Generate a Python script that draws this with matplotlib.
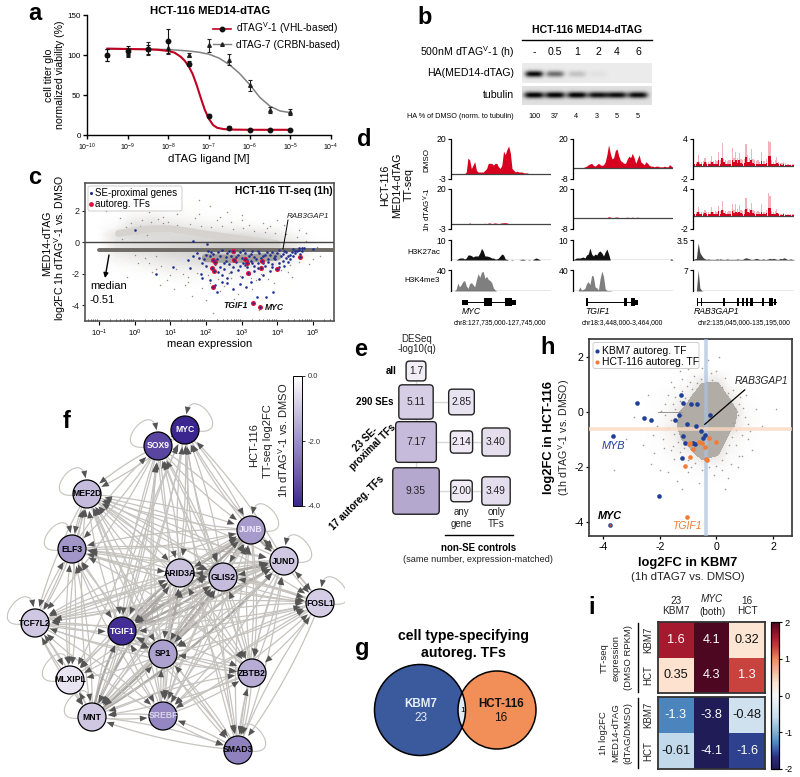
import numpy as np
import matplotlib
matplotlib.use('Agg')
import matplotlib.pyplot as plt
from matplotlib.patches import Circle, FancyBboxPatch, Rectangle
from matplotlib.collections import LineCollection, PolyCollection
from matplotlib.colors import LinearSegmentedColormap, Normalize
from matplotlib.cm import ScalarMappable
from matplotlib.ticker import FixedLocator, NullFormatter, LogLocator

plt.rcParams['font.family'] = ['Liberation Sans', 'DejaVu Sans']
plt.rcParams['mathtext.fontset'] = 'custom'
plt.rcParams['mathtext.rm'] = 'Liberation Sans'
plt.rcParams['mathtext.it'] = 'Liberation Sans:italic'
plt.rcParams['mathtext.bf'] = 'Liberation Sans:bold'
plt.rcParams['axes.unicode_minus'] = False

# ---------- panel a ----------
dose_log = [-9.5, -9, -8.5, -8, -7.5, -7, -6.5, -6, -5.5, -5]
vhl_viab = [100, 105, 107, 117, 89, 24, 9, 6, 6, 6]
vhl_err = [8, 6, 6, 15, 3, 2, 2, 1.5, 1, 1]
crbn_viab = [100, 103, 108, 109, 100, 112, 94, 62, 31, 29]
crbn_err = [8, 6, 8, 8, 2, 8, 7, 7, 4, 4]
vhl_fit_x = [-9.5, -9, -8.5, -8.25, -8, -7.85, -7.7, -7.6, -7.5, -7.4, -7.3, -7.2, -7.1, -7, -6.9, -6.8, -6.65, -6.5, -6, -5]
vhl_fit_y = [108, 107.5, 107, 106.5, 105, 103, 98, 93, 86, 76, 62, 46, 31, 20, 12.5, 9, 7.5, 6.8, 6.5, 6.5]
crbn_fit_x = [-9.5, -9, -8.5, -8, -7.5, -7.25, -7, -6.75, -6.5, -6.25, -6, -5.75, -5.5, -5.25, -5]
crbn_fit_y = [107.5, 107.4, 107.2, 106.8, 105, 103.5, 101, 96, 88, 77, 63, 47, 36, 30, 28]

# ---------- panel b ----------
lane_labels = ['-', '0.5', '1', '2', '4', '6']
ha_band = [1.0, 0.55, 0.18, 0.04, 0.0, 0.0]
tubulin_band = [1.0, 1.0, 1.0, 0.92, 0.94, 0.95]
ha_pct = ['100', '37', '4', '3', '5', '5']

# ---------- panel d ----------
myc_dmso = [0]*9 + [1, 9, 8, 3, 5, 7, 2, 1, 1, 1, 1, 2, 3, 6, 6, 6, 5, 6, 6, 4, 3, 5, 13, 11, 14, 16, 12, 3, 2, 1, 1.5, 1, 1, 1, .5, .5, .5] + [0]*14
myc_dtag = [0]*9 + [0, 0, .5, 0, 0, 0, 0, 0, 0, 0, 0, .3, 0, .4, .5, 0, .3, .5, .3, 0, .3, .5, .6, .6, .5, 0] + [0]*25
myc_k27 = [0, 0, 0, 0, .5, 1, 1, 1, .5, 1, 2.5, 2.5, 2.2, 1.5, 2, 2, 2, 3.5, 5.8, 4.5, 2, 2, 1.8, 1.5, 1, 1, .5, .5, 1, 2, 3, 2.5, .5, .3, 0, 0, .2, 0, 0, 0, 0, .2, .4, .3, 0, 0, .2, 0, 0, .5, 1, .8, .3, 0, 0, 0, 0, 0, 0, 0]
myc_k4 = [0, 0, 0, 3, 15, 8, 12, 18, 20, 10, 5, 14, 16, 12, 8, 22, 33, 26, 36, 37, 24, 28, 22, 20, 16, 6, 2, 0] + [0]*32
tgif_dmso = [0, 0, 0, 0, 0, 0, 0, .5, 1, 2, 2.5, 3, 1.5, 1, 2, 3, 2, 1.5, 2, 4, 9, 16, 10, 6, 7, 12, 13, 8, 5, 4, 3, 3, 6, 8, 7, 10, 7, 3, 6, 9, 4, 3, 2, 4, 3, 1.5, 1, 1, .5, 1, 1, .5, .5, .5, 1, .5, .5, 2, 1, 0]
tgif_dtag = [0]*20 + [0, .6, .3, 0, 0, .3, .4, 0, 0, 0, 0, 0, .3, 0, 0, .3, 0, 0, .3, 0] + [0]*20
tgif_k27 = [0, .5, 1, 1, 1, 1.2, 1.5, 1, 2.5, 3, 6, 3, 2, 3, 2.5, 4, 4.5, 3.5, 2, 4, 5.5, 3, 0, 0, 0] + [0]*33 + [.6, 0]
tgif_k4 = [0, 0, 0, 0, 8, 2, 3, 5, 14, 18, 12, 30, 28, 8, 6, 2, 24, 38, 28, 4, 1, 1, 1, 0] + [0]*36
rab_dmso_peak = [.2, .3, .6, 1.6, .6, .5, .7, 1.1, .5, .6, .7, 1.5, .7, .8, .7, 2, .8, 3.4, 1, .8, .7, .8, .8, 2.6, 1.2, 2, 1.2, 1.9, 1, .8, 1, 3.3, 1.6, 1.2, 2.5, 1, .8, .7, .8, .6, 2, .7, .7, 1, 3.7, 3.6, .8, .6, .8, 1.3, .5, .4, .4, .6, .4, .3, .2, .3, .2, .2]
rab_dmso_core = [.1, .2, .3, .5, .3, .3, .3, .5, .2, .3, .3, .6, .3, .3, .3, .8, .3, 1.2, .5, .3, .3, .3, .3, .9, .5, .8, .4, .8, .4, .3, .4, 1.3, .6, .5, .9, .4, .3, .3, .3, .2, .7, .3, .3, .4, 1.4, 1.5, .3, .2, .3, .4, .2, .2, .1, .2, .1, .1, .1, .1, .1, .1]
rab_dtag_peak = [.2, .3, .5, 1.3, .5, .5, .6, .8, .5, .5, .6, 1.3, .6, .7, .6, 1.5, .7, 2.2, .8, .7, .6, .7, .7, 1.8, .9, 1.7, 1, 1.6, .8, .7, .8, 2.6, 1.2, 1, 1.9, .8, .7, .6, .7, .5, 1.7, .6, .6, .8, 3.4, 2.9, .7, .5, .7, 1, .4, .3, .3, .4, .3, .3, .2, .2, .2, .2]
rab_dtag_core = [.1, .2, .3, .5, .3, .3, .3, .4, .2, .3, .3, .5, .3, .3, .3, .7, .3, .9, .4, .3, .3, .3, .3, .7, .4, .6, .4, .6, .4, .3, .3, 1, .5, .4, .8, .4, .3, .3, .3, .2, .6, .3, .3, .4, 1.2, 1.1, .3, .2, .3, .4, .2, .1, .1, .2, .1, .1, .1, .1, .1, .1]
rab_k27 = [.1, .2, .3, 3.0, 1.3, .8, .4, .2, .1, .2, .1, .1, .1, .1, .2, .1, .2, .1, .1, .1, .2, .1, .1, .1, .1, .1, .2, .1, .1, .1, .3, .4, .3, .2, .1, .1, .2, .3, .2, .1, .1, .2, .1, .1, .2, .3, .2, .3, .2, .1, .1, .3, .2, .4, .3, .1, .1, .2, .1, .1]
rab_k4 = [0, 0, 0, 7, 1, .2] + [0]*54

# ---------- panel c ----------
ma_density_x = [-1, -.5, 0, .5, 1, 1.5, 2, 2.5, 3, 3.5, 4, 4.5, 5, 5.5]
ma_density_y = [2.5, 2, 1.5, 1, .5, 0, -.5, -1, -1.5, -2, -2.5, -3]
ma_density = [
    [0, 0, 0, .01, .01, .01, .01, 0, 0, 0, 0, 0, 0, 0],
    [0, 0, .04, .06, .05, .04, .02, .01, 0, 0, 0, 0, 0, 0],
    [0, .02, .22, .28, .17, .11, .06, .03, .01, 0, 0, 0, 0, 0],
    [0, .1, .5, .55, .42, .32, .25, .2, .15, .1, .05, 0, 0, 0],
    [0, .45, .6, .62, .6, .6, .6, .5, .5, .42, .3, .1, 0, 0],
    [0, .4, .5, .55, .62, .7, .72, .8, .8, .72, .5, .3, .05, 0],
    [0, .4, .5, .55, .65, .72, .8, .85, .85, .8, .65, .4, .1, 0],
    [0, .2, .3, .4, .5, .6, .7, .72, .72, .62, .5, .2, .05, 0],
    [0, .05, .1, .2, .3, .32, .4, .42, .42, .32, .2, .05, 0, 0],
    [0, 0, .02, .05, .15, .15, .15, .15, .15, .1, .05, 0, 0, 0],
    [0, 0, 0, .01, .03, .05, .05, .05, .05, .03, .01, 0, 0, 0],
    [0, 0, 0, 0, 0, .01, .01, .02, .02, .01, 0, 0, 0, 0],
]
ma_grey_pts = [(.2, 2.1), (.4, 1.9), (.8, 1.6), (1.2, 1.8), (1.8, 2.7), (2.1, 2.3), (2.6, 1.9), (3.0, 1.7), (3.6, 1.2), (4.2, 1.1),
               (-.8, 2.0), (-.4, 1.5), (.1, -1.3), (.6, -1.7), (1.0, -2.1), (1.5, -2.5), (.3, -1.0), (.9, -2.4), (1.4, -2.7), (1.9, -2.9),
               (2.4, -3.1), (2.9, -3.3), (3.3, -3.0), (3.9, -2.6), (4.4, -2.2), (4.9, -1.4), (5.2, -.9), (-.2, -2.2), (.5, -1.9), (1.3, 2.3),
               (1.7, 1.5), (2.3, 1.4), (2.7, 1.3), (3.2, 1.1), (3.7, .9), (.7, -2.7), (1.1, -3.0), (1.6, -3.4), (2.0, -3.7), (2.5, -2.8),
               (3.1, -3.9), (3.5, -4.3), (2.2, -4.5), (2.8, -3.6), (3.4, -2.4), (1.2, 1.1), (1.8, 1.8), (2.4, 1.6), (3.0, 1.4), (3.8, 1.0),
               (4.6, .8), (.2, 1.4), (.8, 1.2), (4.0, 1.4), (4.8, .6), (0, -.8), (.6, -.9), (1.5, -2.2), (2.1, -2.6), (2.7, -2.3),
               (4.3, -1.9), (5.0, -1.1), (.4, -1.3), (.75, -1.5), (1.15, -1.7), (1.35, -2.0), (1.75, -1.95), (2.05, -2.1), (2.35, -2.35), (2.65, -1.95),
               (2.95, -2.15), (3.25, -2.25), (3.55, -2.05), (3.75, -2.35), (4.1, -1.75), (4.35, -1.45), (4.6, -1.25), (.15, 1.05), (.45, 1.25), (.65, 1.45),
               (.95, 1.3), (1.25, .95), (1.55, 1.15), (1.85, 1.05), (2.15, .95), (2.45, 1.05), (2.75, .85), (3.05, .9), (3.35, .7), (3.65, .65),
               (3.95, .55), (4.25, .5), (4.55, .35), (4.8, .1), (5.1, -.3), (-.25, .95), (-.1, 1.2), (.05, .6), (.35, .45), (-.35, .2)]
se_pts = [(0, .8), (.59, -2.0), (1.07, -1.56), (1.63, .06), (2.04, -.1), (1.74, -.66), (1.51, -1.14), (1.55, -1.67), (1.9, -2.3), (2.3, -3.15),
          (2.58, -2.62), (2.77, -2.94), (3.12, -2.83), (3.42, -3.47), (3.68, -3.47), (3.89, -3.15), (2.0, -.8), (2.15, -.6), (2.3, -1.1), (2.4, -.9),
          (2.5, -1.3), (2.6, -.7), (2.7, -.9), (2.8, -.6), (2.9, -.8), (3.0, -1.0), (3.1, -.7), (3.2, -.9), (3.3, -.55), (3.4, -1.1),
          (3.5, -.7), (3.6, -.9), (3.7, -.6), (3.8, -.8), (3.9, -1.0), (4.0, -.7), (4.1, -.9), (4.2, -.55), (4.3, -.85), (4.4, -.65),
          (4.5, -.7), (4.6, -.5), (4.7, -.4), (4.75, -.35), (1.9, -1.3), (2.0, -1.5), (2.1, -.9), (2.4, -1.6), (2.55, -1.2), (2.65, -1.4),
          (2.85, -1.25), (2.95, -1.5), (3.05, -1.3), (3.15, -1.6), (3.25, -1.2), (3.35, -1.5), (3.45, -1.3), (3.55, -1.2), (3.65, -1.5), (3.75, -1.25),
          (3.85, -1.4), (3.95, -1.1), (4.05, -1.3), (4.15, -1.2), (4.25, -1.0), (4.35, -1.05), (2.35, -1.9), (2.45, -2.1), (2.7, -1.9), (2.9, -1.75),
          (3.0, -2.2), (3.2, -2.0), (3.35, -1.8), (3.6, -2.1), (3.8, -1.85), (4.05, -1.6), (4.2, -1.5), (2.1, -2.4), (2.25, -2.7), (2.6, -2.3),
          (3.25, -2.5), (3.5, -2.35), (1.85, -2.0), (2.45, -2.55), (2.95, -2.65), (5.0, -.45), (4.65, -.75), (4.55, -.55),
          (2.05, -.55), (2.2, -.75), (2.35, -.65), (2.45, -.5), (2.55, -.95), (2.65, -.55), (2.75, -1.1), (2.85, -.95), (2.95, -.6), (3.05, -.5),
          (3.15, -1.15), (3.25, -.75), (3.35, -.95), (3.45, -.55), (3.55, -1.0), (3.65, -.8), (3.75, -1.05), (3.85, -.6), (3.95, -.85), (4.05, -.5),
          (4.15, -.75), (4.25, -.6), (4.35, -.8), (4.45, -.9), (4.5, -.55), (1.8, -1.0), (1.65, -.85), (1.95, -1.1), (2.25, -1.4), (2.75, -1.55),
          (3.1, -1.45), (3.3, -1.35), (3.6, -1.35), (3.85, -1.6), (4.3, -1.25), (4.45, -.45), (4.6, -.35), (4.7, -.55), (2.5, -1.7), (3.45, -1.65)]
auto_x = [2.2, 2.25, 2.16, 2.22, 2.77, 2.79, 3.09, 3.14, 3.56, 3.54, 3.17, 3.98, 4.64, 2.19, 3.31, 3.51]
auto_y = [-1.14, -1.29, -1.67, -1.80, -.57, -1.14, -1.08, -1.35, -1.2, -1.67, -1.95, -1.73, -.97, -2.83, -3.83, -4.14]
ma_median = -0.51
ma_arc_x = [-.45, 0, .5, 1, 1.5, 2, 3, 4]
ma_arc_y = [.55, .72, .85, .85, .7, .5, .2, -.1]
ma_low_x = [2, 2.5, 3, 3.5, 4]
ma_low_y = [-1.0, -1.05, -1.05, -1.0, -.9]

# ---------- panel e ----------
e_main_labels = ['all', '290 SEs', '23 SE-\nproximal TFs', '17 autoreg. TFs']
e_main_vals = [1.7, 5.11, 7.17, 9.35]
e_anygene_vals = [2.85, 2.14, 2.00]
e_onlytf_vals = [3.40, 3.49]

# ---------- panel f ----------
tf_names = ['MYC', 'SOX9', 'MEF2D', 'ELF3', 'JUNB', 'JUND', 'ARID3A', 'GLIS2', 'FOSL1', 'TCF7L2', 'TGIF1', 'SP1', 'ZBTB2', 'MLXIPL', 'MNT', 'SREBF', 'SMAD3']
tf_lfc = [-4.1, -3.4, -1.2, -1.9, -1.8, -1.0, -1.1, -1.2, -0.9, -1.0, -3.85, -1.7, -1.5, -0.5, -1.0, -2.2, -2.3]
tf_regulators = {
    'MYC': ['SOX9', 'JUNB', 'ARID3A', 'GLIS2', 'TGIF1', 'SP1', 'JUND', 'MNT', 'SMAD3', 'ZBTB2'],
    'SOX9': ['MYC', 'ARID3A', 'GLIS2', 'TGIF1', 'SP1', 'MNT', 'SREBF', 'ZBTB2', 'ELF3', 'SMAD3'],
    'MEF2D': ['SOX9', 'ELF3', 'MYC', 'ARID3A', 'TCF7L2', 'TGIF1', 'MNT', 'SP1', 'SREBF', 'JUND', 'JUNB', 'GLIS2', 'ZBTB2', 'FOSL1', 'SMAD3'],
    'ELF3': ['MEF2D', 'TCF7L2', 'ARID3A', 'TGIF1', 'SP1', 'MNT', 'MLXIPL', 'SREBF', 'GLIS2', 'JUNB', 'JUND', 'ZBTB2', 'SOX9', 'FOSL1'],
    'JUNB': ['MYC', 'SOX9', 'MEF2D', 'ELF3', 'ARID3A', 'GLIS2', 'TCF7L2', 'TGIF1', 'SP1', 'MNT', 'JUND', 'SREBF', 'ZBTB2', 'SMAD3'],
    'JUND': ['JUNB', 'ARID3A', 'GLIS2', 'MEF2D', 'ELF3', 'TCF7L2', 'TGIF1', 'SP1', 'MNT', 'MLXIPL', 'SREBF', 'ZBTB2', 'SMAD3', 'FOSL1', 'MYC', 'SOX9'],
    'ARID3A': ['SOX9', 'MYC', 'GLIS2', 'TGIF1', 'SP1', 'MNT', 'TCF7L2', 'JUNB', 'JUND', 'SREBF', 'MEF2D', 'ELF3', 'ZBTB2', 'FOSL1'],
    'GLIS2': ['ARID3A', 'JUNB', 'JUND', 'SP1', 'TGIF1', 'MEF2D', 'MYC', 'SOX9', 'SREBF', 'TCF7L2', 'FOSL1', 'ZBTB2', 'MNT'],
    'FOSL1': ['JUND', 'JUNB', 'GLIS2', 'ARID3A', 'TGIF1', 'SP1', 'MNT', 'SREBF', 'TCF7L2', 'SMAD3', 'ELF3', 'MEF2D'],
    'TCF7L2': ['ELF3', 'MEF2D', 'ARID3A', 'GLIS2', 'TGIF1', 'MNT', 'MLXIPL', 'SP1', 'JUNB', 'JUND', 'SREBF', 'FOSL1', 'SOX9'],
    'TGIF1': ['TCF7L2', 'ARID3A', 'GLIS2', 'JUND', 'JUNB', 'SP1', 'MNT', 'SREBF', 'MYC', 'SOX9', 'ELF3', 'MEF2D', 'FOSL1', 'ZBTB2'],
    'SP1': ['TGIF1', 'ARID3A', 'GLIS2', 'JUND', 'JUNB', 'MNT', 'SREBF', 'ZBTB2', 'MEF2D', 'FOSL1', 'TCF7L2', 'SMAD3'],
    'ZBTB2': ['JUND', 'JUNB', 'GLIS2', 'ARID3A', 'SP1', 'TGIF1', 'FOSL1', 'MNT', 'SREBF', 'SMAD3', 'MEF2D', 'TCF7L2'],
    'MLXIPL': ['TCF7L2', 'ELF3', 'MEF2D', 'TGIF1', 'MNT', 'SP1', 'ARID3A', 'GLIS2', 'JUNB', 'SOX9'],
    'MNT': ['MLXIPL', 'TGIF1', 'SP1', 'ARID3A', 'GLIS2', 'JUND', 'JUNB', 'SREBF', 'ZBTB2', 'TCF7L2', 'SMAD3', 'FOSL1', 'MYC'],
    'SREBF': ['MNT', 'SP1', 'TGIF1', 'ARID3A', 'GLIS2', 'JUND', 'JUNB', 'ZBTB2', 'SMAD3', 'FOSL1', 'TCF7L2', 'SOX9'],
    'SMAD3': ['SREBF', 'ZBTB2', 'JUND', 'JUNB', 'GLIS2', 'FOSL1', 'SP1', 'MNT', 'ARID3A', 'TGIF1'],
}
tf_self_loops = ['MYC', 'SOX9', 'MEF2D', 'ELF3', 'JUNB', 'JUND', 'FOSL1', 'TCF7L2', 'MLXIPL', 'MNT', 'SMAD3']

# ---------- panel g ----------
venn_kbm7 = 23
venn_hct = 16
venn_both = 1

# ---------- panel h ----------
sc_density_x = [-2.5, -2, -1.5, -1, -.5, 0, .5, 1, 1.5]
sc_density_y = [1.5, 1, .5, 0, -.5, -1, -1.5, -2, -2.5]
sc_density = [
    [0, 0, 0, .01, .03, .03, 0, 0, 0],
    [0, 0, 0, .08, .45, .5, .05, 0, 0],
    [0, .02, .1, .3, 1, 1, .35, .03, 0],
    [0, .05, .22, .7, 1, 1, .7, .1, .01],
    [.02, .08, .3, .85, 1, 1, .55, .1, .02],
    [0, .05, .2, .6, 1, .9, .2, .05, 0],
    [0, .02, .1, .2, .7, .5, .1, .02, 0],
    [0, 0, .02, .05, .1, .08, .02, 0, 0],
    [0, 0, 0, 0, .01, .01, 0, 0, 0],
]
sc_grey_pts = [(-2.6, -1.2), (-2.2, -1.5), (-1.9, -1.0), (-1.7, -2.2), (-1.5, -1.7), (-1.4, -2.5), (-2.9, -.2), (-2.4, .6), (-1.8, .3), (-1.6, 1.1),
               (-1.3, 1.5), (-1.2, 1.2), (.6, .8), (.8, .3), (1.0, -.2), (1.2, -.7), (1.4, .1), (.7, -1.2), (.9, -1.6), (1.1, -1.0),
               (1.3, 1.1), (.5, -1.9), (.75, -2.0), (1.05, .6), (-.2, 1.4), (-.5, 1.6), (-.8, 1.3), (0, 1.5), (.3, 1.25), (-1.0, -2.2),
               (-2.0, -2.1), (-1.6, -1.4), (-1.2, -2.8), (-.9, -2.0), (-.1, -2.3), (.2, -2.1), (.4, -2.4), (-2.3, -1.9), (-3.2, -1.0), (1.6, -.5),
               (2.1, .1), (.3, -2.8), (.1, 2.0), (-.3, 1.9), (-.6, -2.6), (-1.5, .9), (-1.0, 1.55), (.8, -1.6), (1.25, -1.4), (-3.6, -2.1),
               (-1.45, .1), (-1.6, -.3), (-1.7, -.6), (-1.5, -.8), (-1.35, -1.1), (-1.55, -1.25), (-1.3, -1.45), (-1.25, -.55), (-1.3, .4), (-1.45, .55),
               (-1.2, .75), (-1.05, .95), (-.85, .85), (-.95, 1.1), (-.7, 1.05), (-.55, 1.2), (-.35, 1.1), (-.15, 1.15), (.05, 1.05), (.2, .9),
               (.4, .7), (.55, .45), (.65, .15), (.75, -.1), (.6, -.4), (.7, -.65), (.55, -.9), (.45, -1.2), (.35, -1.5), (.2, -1.75),
               (0, -1.95), (-.25, -2.0), (-.5, -2.1), (-.75, -1.85), (-1.0, -1.75), (-1.15, -1.3), (-1.8, -.1), (-1.95, .05), (-2.1, -.5), (-2.25, -.85),
               (-1.85, -1.3), (-1.7, .6), (-1.55, .3), (.95, .15), (1.1, -.45), (.9, -.85), (.85, .55), (-1.1, .5), (-1.2, -.1), (-1.35, -.35)]
kbm7_x = [-2.79, -2.56, -2.30, -3.65, -1.25, -1.17, -.91, -.70, -.21, -1.33, -1.47, -1.05, -.73, -.56, -1.17, -.41, -.47, -1.11, -.83, -.77, -1.23, -2.02, -3.77]
kbm7_y = [.32, -.21, -.29, -.86, .61, .32, .27, .27, -.11, -.13, -.29, -.44, -.52, -.70, -.88, -.85, -.95, -1.14, -1.12, -1.18, -1.66, -3.04, -4.12]
hct_x = [-.98, -.95, -.62, -.52, -.27, 0, -.84, -.41, -.95, -1.11, -.36, -.32, -1.03]
hct_y = [-1.18, -1.13, -1.09, -1.12, -.96, -1.08, -1.36, -1.28, -1.65, -1.95, -1.72, -1.76, -3.82]
kbm7_median = -0.37
hct_median = -0.61
rab_xy = (-.41, -.45)

# ---------- panel i ----------
hm_cols = ['23\nKBM7', '(both)', '16\nHCT']
hm_rows = ['KBM7', 'HCT']
hm_expr = [[1.6, 4.1, 0.32], [0.35, 4.3, 1.3]]
hm_lfc = [[-1.3, -3.8, -0.48], [-0.61, -4.1, -1.6]]
hm_expr_txt = [['1.6', '4.1', '0.32'], ['0.35', '4.3', '1.3']]
hm_lfc_txt = [['-1.3', '-3.8', '-0.48'], ['-0.61', '-4.1', '-1.6']]

# =====================================================================
W, H = 800, 777
fig = plt.figure(figsize=(W / 100, H / 100), dpi=100)
fig.patch.set_facecolor('white')
VEE = 'dTAG$^{\\mathrm{V}}$-1'


def axpx(x0, y0, x1, y1, **kw):
    return fig.add_axes([x0 / W, 1 - y1 / H, (x1 - x0) / W, (y1 - y0) / H], **kw)


ov = axpx(0, 0, W, H)
ov.set_xlim(0, W)
ov.set_ylim(H, 0)
ov.axis('off')
ov.set_zorder(20)
ov.patch.set_alpha(0)


def T(x, y, s, size=7, ha='center', va='center', **kw):
    return ov.text(x, y, s, fontsize=size, ha=ha, va=va, **kw)


for letter, lx, ly in [('a', 35, 13), ('b', 425, 17), ('c', 35, 178), ('d', 364, 140), ('e', 361, 350),
                       ('f', 67, 421), ('g', 362, 648), ('h', 548, 348), ('i', 592, 607)]:
    T(lx, ly, letter, size=17, fontweight='bold')

# ---------- a ----------
ax = axpx(87, 15, 331, 135)
ax.set_xscale('log')
ax.set_xlim(1e-10, 1e-4)
ax.set_ylim(0, 150)
ax.plot(10.0 ** np.array(crbn_fit_x), crbn_fit_y, color='#808080', lw=1.1, zorder=2)
ax.plot(10.0 ** np.array(vhl_fit_x), vhl_fit_y, color='#c00020', lw=1.5, zorder=3)
ax.errorbar(10.0 ** np.array(dose_log), crbn_viab, yerr=crbn_err, fmt='^', ms=2.6, color='#222222', lw=.8, capsize=1.5, capthick=.8, zorder=4)
ax.errorbar(10.0 ** np.array(dose_log), vhl_viab, yerr=vhl_err, fmt='o', ms=3.2, color='#111111', lw=.8, capsize=1.5, capthick=.8, zorder=5)
ax.plot([], [], '-o', color='#c00020', mfc='#111111', mec='#111111', ms=3.2, lw=1.2, label=VEE + ' (VHL-based)')
ax.plot([], [], '-^', color='#808080', mfc='#222222', mec='#222222', ms=2.6, lw=1, label='dTAG-7 (CRBN-based)')
ax.legend(loc='upper left', bbox_to_anchor=(.495, .995), frameon=False, fontsize=7.3, handlelength=1.8, labelspacing=.35, borderpad=0, handletextpad=.5)
ax.set_xticks([10.0 ** k for k in range(-10, -3)])
ax.xaxis.set_minor_locator(FixedLocator([]))
ax.set_yticks([0, 50, 100, 150])
ax.tick_params(labelsize=5.8, length=3, width=1, pad=1.5)
ax.tick_params(axis='x', labelsize=5)
ax.set_xlabel('dTAG ligand [M]', fontsize=8.2, labelpad=1)
ax.set_ylabel('cell titer glo\nnormalized viability (%)', fontsize=7.6, labelpad=2, linespacing=1.05)
for s in ['top', 'right']:
    ax.spines[s].set_visible(False)
for s in ['left', 'bottom']:
    ax.spines[s].set_linewidth(1)
T(210, 11, 'HCT-116 MED14-dTAG', size=8.2, fontweight='bold')

# ---------- b ----------
lanes = [534, 555, 577, 598, 617, 638]
for (y0, y1, vals, cy, hw, bg) in [(63, 83, ha_band, 74, 9, .92), (86, 105, tubulin_band, 95, 10, .88)]:
    bax = axpx(522, y0, 652, y1)
    ys, xs = np.mgrid[y0:y1:40j, 522:652:260j]
    img = np.full(xs.shape, bg)
    for lx, v in zip(lanes, vals):
        img -= v * .9 * np.exp(-((xs - lx) / hw) ** 4) * np.exp(-((ys - cy) / 3.2) ** 2)
    bax.imshow(np.clip(img, 0.02, 1), cmap='gray', vmin=0, vmax=1, aspect='auto', extent=(522, 652, y1, y0), interpolation='bilinear')
    bax.axis('off')
T(587, 30, 'HCT-116 MED14-dTAG', size=7.6, fontweight='bold')
ov.plot([522, 652], [40, 40], color='k', lw=1)
T(514, 52, '500nM ' + VEE + ' (h)', size=7.6, ha='right')
T(514, 73, 'HA(MED14-dTAG)', size=7.6, ha='right')
T(514, 95, 'tubulin', size=7.6, ha='right')
T(514, 116, 'HA % of DMSO (norm. to tubulin)', size=5.2, ha='right')
for lx, lab, pct, px in zip(lanes, lane_labels, ha_pct, [534, 555, 576, 597, 617, 638]):
    T(lx, 52, lab, size=7.6)
    T(px, 116, pct, size=5.2)


# ---------- d ----------
def track(x0, x1, y0, y1, top, bottom, vals, color, core=None):
    a = axpx(x0, y0, x1, y1)
    n = len(vals)
    xx = np.arange(n)
    if core is None:
        a.fill_between(xx, vals, 0, color=color, lw=0)
    else:
        a.bar(xx, vals, width=.7, color=color, alpha=.3, lw=0)
        a.bar(xx, core, width=.9, color=color, lw=0)
    a.set_xlim(0, n - 1)
    a.set_ylim(bottom, top)
    a.axhline(0, color='#444444', lw=.9)
    a.set_xticks([])
    a.set_yticks([bottom, top] if bottom != 0 else [top])
    a.set_yticklabels([str(bottom), str(top)] if bottom != 0 else [str(top)])
    a.tick_params(axis='y', labelsize=6.2, length=2.5, width=.8, pad=1)
    for s in ['top', 'right', 'bottom']:
        a.spines[s].set_visible(False)
    a.spines['left'].set_linewidth(.9)
    return a


RED = '#d7001f'
track(451, 551, 139, 179, 20, -3, myc_dmso, RED)
track(451, 551, 189, 229, 20, -3, myc_dtag, RED)
track(451, 551, 240, 260, 10, 0, myc_k27, '#111111')
track(451, 551, 270, 291, 40, 0, myc_k4, '#7f7f7f')
track(573, 673, 139, 179, 20, -8, tgif_dmso, RED)
track(573, 673, 189, 229, 20, -8, tgif_dtag, RED)
track(573, 673, 240, 260, 10, 0, tgif_k27, '#111111')
track(573, 673, 270, 291, 40, 0, tgif_k4, '#7f7f7f')
track(693, 794, 139, 179, 4, -2, rab_dmso_peak, RED, core=rab_dmso_core)
track(693, 794, 189, 229, 4, -2, rab_dtag_peak, RED, core=rab_dtag_core)
track(693, 794, 240, 260, 3.5, 0, rab_k27, '#444444')
track(693, 794, 270, 291, 7, 0, rab_k4, '#555555')

T(385, 185, 'HCT-116', size=7.6, rotation=90)
T(397, 185, 'MED14-dTAG', size=7.6, rotation=90)
T(409, 185, 'TT-seq', size=7.6, rotation=90)
T(427, 160, 'DMSO', size=5.8, rotation=90)
T(427, 210, '1h ' + VEE, size=5.8, rotation=90)
T(440, 252, 'H3K27ac', size=5.8, ha='right')
T(440, 281, 'H3K4me3', size=5.8, ha='right')

gene_models = {
    'MYC': (462, 515, [(462, 468, 5), (484, 492, 8), (505, 512, 8), (512, 516, 5)]),
    'TGIF1': (586, 637, [(586, 588, 8), (624, 627, 8), (631, 635, 8), (635, 638, 5)]),
    'RAB3GAP1': (697, 776, [(697, 698, 8), (701, 702, 8), (723, 725, 8), (737, 739, 8), (742, 744, 8), (746, 748, 8), (750, 753, 8), (762, 764, 8), (769, 773, 8), (774, 776, 6)]),
}
for g, (s, e, exons) in gene_models.items():
    ov.plot([s, e], [302, 302], color='k', lw=.7)
    for a0, a1, h in exons:
        ov.add_patch(Rectangle((a0, 302 - h / 2), a1 - a0, h, color='k', lw=0))
T(471, 312, 'MYC', size=6.2, style='italic')
T(597, 312, 'TGIF1', size=6.2, style='italic')
T(716, 312, 'RAB3GAP1', size=6.2, style='italic')
T(500, 323, 'chr8:127,735,000-127,745,000', size=4.9)
T(622, 323, 'chr18:3,448,000-3,464,000', size=4.9)
T(791, 323, 'chr2:135,045,000-135,195,000', size=4.9, ha='right')

# ---------- c ----------
ax = axpx(85, 183, 334, 321)
ax.set_xscale('log')
ax.set_xlim(10 ** -1.39, 10 ** 5.59)
ax.set_ylim(-5.0, 3.75)
cm_c = LinearSegmentedColormap.from_list('c', ['#ffffff', '#c6c3bf'])
ax.pcolormesh(10.0 ** np.array(ma_density_x), ma_density_y, np.array(ma_density), shading='gouraud', cmap=cm_c, vmin=0, vmax=1, zorder=1, rasterized=True)
gx, gy = zip(*ma_grey_pts)
ax.scatter(10.0 ** np.array(gx), gy, s=1.1, color='#8f8b87', lw=0, zorder=2)
ax.plot(10.0 ** np.array(ma_arc_x), ma_arc_y, color='#d6d3cf', lw=5, solid_capstyle='round', zorder=2)
ax.plot(10.0 ** np.array(ma_low_x), ma_low_y, color='#8d8984', lw=6, alpha=.7, solid_capstyle='round', zorder=2)
ax.plot([.1, 4e5], [ma_median, ma_median], color='#6e6a66', lw=2.8, solid_capstyle='round', zorder=3)
ax.axhline(0, color='#444444', lw=1, zorder=4)
sx, sy = zip(*se_pts)
ax.scatter(10.0 ** np.array(sx), sy, s=3.5, color='#1f2f8f', lw=0, zorder=5)
ax.scatter(10.0 ** np.array(auto_x), auto_y, s=13, color='#e0103a', lw=0, zorder=6)
ax.scatter(10.0 ** np.array(auto_x), auto_y, s=3, color='#1f2f8f', lw=0, zorder=7)
ax.set_yticks([-4, -2, 0, 2])
ax.set_xticks([10.0 ** k for k in range(-1, 6)])
ax.tick_params(axis='y', labelsize=6.5, length=2.5, width=.8, pad=1.5, colors='#222222')
ax.tick_params(axis='x', which='major', labelsize=5.5, length=3, width=.8, pad=1.5)
ax.xaxis.set_minor_locator(LogLocator(base=10, subs=np.arange(2, 10), numticks=12))
ax.xaxis.set_minor_formatter(NullFormatter())
ax.tick_params(axis='x', which='minor', length=1.5, width=.5, direction='in')
for s in ax.spines.values():
    s.set_color('#555555')
    s.set_linewidth(1.2)
ax.set_xlabel('mean expression', fontsize=8, labelpad=0)
ov.add_patch(FancyBboxPatch((88, 186), 94, 25, boxstyle='round,pad=0,rounding_size=2', fc='white', ec='#cccccc', lw=.7, alpha=.95))
ov.scatter([91], [193], s=5, color='#1f2f8f', lw=0)
ov.scatter([91], [204], s=12, color='#e0103a', lw=0)
T(95, 193, 'SE-proximal genes', size=7, ha='left')
T(95, 204, 'autoreg. TFs', size=7, ha='left')
T(333, 191, 'HCT-116 TT-seq (1h)', size=7.4, fontweight='bold', ha='right')
T(308, 216, 'RAB3GAP1', size=5.8, style='italic', color='#222222')
ov.plot([288, 283], [220, 249], color='k', lw=.7)
T(90, 286, 'median', size=8, ha='left')
T(90, 300, '-0.51', size=8, ha='left')
ov.annotate('', xy=(105, 278), xytext=(109, 255), arrowprops=dict(arrowstyle='-|>', color='k', lw=1, mutation_scale=7, shrinkA=0, shrinkB=0))
T(236, 305, 'TGIF1', size=6.2, style='italic', fontweight='bold', color='#111111')
T(274, 308, 'MYC', size=6.2, style='italic', fontweight='bold', color='#111111')
T(47, 243, 'MED14-dTAG', size=7.6, rotation=90)
T(60, 248, 'log2FC 1h ' + VEE + ' vs. DMSO', size=7.6, rotation=90)

# ---------- e ----------
cm_e = LinearSegmentedColormap.from_list('e', ['#f1edf6', '#b5a8cf'])
norm_e = Normalize(1.7, 9.35)


def ebox(cx, cy, v, txt=None):
    s = 15.2 * np.sqrt(v)
    p = 3.5
    ov.add_patch(FancyBboxPatch((cx - s / 2 + p, cy - s / 2 + p), s - 2 * p, s - 2 * p, boxstyle=f'round,pad={p},rounding_size={p}',
                                fc=cm_e(norm_e(v)), ec='#222222', lw=1, zorder=3))
    T(cx, cy, txt if txt else f'{v:.2f}', size=7.4, color='#222222', zorder=4)


e_rows = [371, 402, 442, 491]
ov.plot([416, 416], [371, 491], color='#d8d8d8', lw=1, zorder=1)
for ry in e_rows[1:]:
    ov.plot([416, 462], [ry, ry], color='#d8d8d8', lw=1, zorder=1)
for ry in e_rows[2:]:
    ov.plot([462, 496], [ry, ry], color='#d8d8d8', lw=1, zorder=1)
for ry, v, lab in zip(e_rows, e_main_vals, ['1.7', '5.11', '7.17', '9.35']):
    ebox(416, ry, v, lab)
for ry, v in zip(e_rows[1:], e_anygene_vals):
    ebox(461.5, ry, v)
for ry, v in zip(e_rows[2:], e_onlytf_vals):
    ebox(496, ry, v)
T(417, 344, 'DESeq\n-log10(q)', size=7, color='#222222', linespacing=1.1)
T(397, 371, e_main_labels[0], size=7, fontweight='bold', ha='right')
T(393, 402, e_main_labels[1], size=7, fontweight='bold', ha='right')
T(369, 443, e_main_labels[2], size=7, fontweight='bold', rotation=45, linespacing=1.1)
T(357, 503, e_main_labels[3], size=7, fontweight='bold', rotation=45)
T(461, 518, 'any\ngene', size=7, color='#222222', linespacing=1.15)
T(496, 518, 'only\nTFs', size=7, color='#222222', linespacing=1.15)
ov.plot([445, 513], [535, 535], color='k', lw=1)
T(479, 548, 'non-SE controls', size=7, fontweight='bold')
T(478, 560, '(same number, expression-matched)', size=6.6, color='#222222')

# ---------- f ----------
node_xy = {'MYC': (185, 430), 'SOX9': (158, 446), 'MEF2D': (87, 494), 'ELF3': (72, 549), 'JUNB': (251, 530),
           'JUND': (284, 561), 'ARID3A': (180, 573), 'GLIS2': (223, 577), 'FOSL1': (320, 603), 'TCF7L2': (35, 623),
           'TGIF1': (122, 631), 'SP1': (163, 654), 'ZBTB2': (252, 673), 'MLXIPL': (70, 680), 'MNT': (92, 717),
           'SREBF': (163, 716), 'SMAD3': (238, 750)}
NODE_R = 14
net = axpx(0, 390, 345, 777)
net.set_xlim(0, 345)
net.set_ylim(777, 390)
net.axis('off')
segs, seg_lw, seg_col, heads = [], [], [], []


def add_curve(pts, target):
    c = np.array(node_xy[target], float)
    d = np.hypot(*(pts - c).T)
    last = np.where(d > NODE_R + 1)[0][-1]
    tip = pts[last]
    back = pts[max(last - 2, 0)]
    u = (tip - back) / (np.hypot(*(tip - back)) + 1e-9)
    n_ = np.array([-u[1], u[0]])
    heads.append([tip, tip - 7.5 * u + 3 * n_, tip - 7.5 * u - 3 * n_])
    return pts[:last]


for tgt, regs in tf_regulators.items():
    for src in regs:
        p0 = np.array(node_xy[src], float)
        p1 = np.array(node_xy[tgt], float)
        mid = (p0 + p1) / 2
        dv = p1 - p0
        nv = np.array([-dv[1], dv[0]])
        sign = 1 if (tf_names.index(src) + tf_names.index(tgt)) % 2 else -1
        ctrl = mid + sign * .07 * nv
        t = np.linspace(0, 1, 60)[:, None]
        pts = (1 - t) ** 2 * p0 + 2 * t * (1 - t) * ctrl + t ** 2 * p1
        segs.append(add_curve(pts, tgt))
        strong = tgt in ('JUND', 'TGIF1', 'ARID3A', 'GLIS2') and src in ('JUNB', 'GLIS2', 'ARID3A', 'SP1', 'TGIF1', 'MNT')
        seg_lw.append(1.7 if strong else .9)
        seg_col.append('#aaa7a2' if strong else '#c6c3bf')
for name in tf_self_loops:
    cx, cy = node_xy[name]
    side = -1 if cx < 172 else 1
    a1, a2 = np.deg2rad(-90 + side * 5), np.deg2rad(-90 + side * 95)
    R = NODE_R
    p0 = np.array([cx + R * np.cos(a2), cy + R * np.sin(a2)])
    p3 = np.array([cx + R * np.cos(a1), cy + R * np.sin(a1)])
    c1 = p0 + 36 * np.array([np.cos(a2), np.sin(a2)])
    c2 = p3 + 36 * np.array([np.cos(a1), np.sin(a1)])
    t = np.linspace(0, 1, 60)[:, None]
    pts = (1 - t) ** 3 * p0 + 3 * (1 - t) ** 2 * t * c1 + 3 * (1 - t) * t ** 2 * c2 + t ** 3 * p3
    segs.append(add_curve(pts, name))
    seg_lw.append(.8)
    seg_col.append('#c6c3bf')
net.add_collection(LineCollection(segs, linewidths=seg_lw, colors=seg_col, zorder=1))
net.add_collection(PolyCollection(heads, facecolors='#555555', edgecolors='none', zorder=2))
cm_f = LinearSegmentedColormap.from_list('f', ['#ffffff', '#cfc7e2', '#9d90c6', '#6f5cab', '#3b2690'])
norm_f = Normalize(-4, 0)
cm_f_r = cm_f.reversed()
white_labels = {'MYC': 'white', 'SOX9': 'white', 'TGIF1': 'white', 'JUNB': '#efeaff', 'SREBF': '#d9d4ea'}
for name, v in zip(tf_names, tf_lfc):
    cx, cy = node_xy[name]
    net.add_patch(Circle((cx, cy), NODE_R, fc=cm_f_r(norm_f(max(v, -4))), ec='k', lw=.9, zorder=3))
    net.text(cx, cy, name, fontsize=6.2, fontweight='bold', ha='center', va='center', color=white_labels.get(name, 'k'), zorder=4)
cax = axpx(293, 376, 302, 506)
cb = fig.colorbar(ScalarMappable(norm=norm_f, cmap=cm_f_r), cax=cax)
cb.set_ticks([0, -2, -4])
cb.set_ticklabels(['0.0', '-2.0', '-4.0'])
cb.ax.tick_params(labelsize=5.5, length=2.5, width=.7, pad=1.5, colors='#333333')
cb.outline.set_linewidth(.7)
T(254, 445, 'HCT-116', size=8, rotation=90, color='#222222')
T(268, 441, 'TT-seq log2FC', size=8, rotation=90, color='#222222')
T(283, 440, '1h ' + VEE + ' vs. DMSO', size=8, rotation=90, color='#222222')

# ---------- g ----------
c1 = Circle((420, 710), 45.5, fc='#3b5a9e', ec='none', zorder=2)
c2 = Circle((497, 710), 39, fc='#f28f58', ec='none', zorder=2)
ov.add_patch(c1)
ov.add_patch(c2)
lens = Circle((497, 710), 39, fc='#e1ecf6', ec='none', zorder=3)
ov.add_patch(lens)
lens.set_clip_path(Circle((420, 710), 45.5, transform=ov.transData))
ov.add_patch(Circle((420, 710), 45.5, fc='none', ec='k', lw=1.1, zorder=4))
ov.add_patch(Circle((497, 710), 39, fc='none', ec='k', lw=1.1, zorder=4))
T(463, 636, 'cell type-specifying', size=10.2, fontweight='bold', zorder=5)
T(463, 653, 'autoreg. TFs', size=10.2, fontweight='bold', zorder=5)
T(421, 704, 'KBM7', size=8.4, fontweight='bold', color='#e8eefa', zorder=5)
T(421, 718, str(venn_kbm7), size=8.5, color='#e8eefa', zorder=5)
T(501, 704, 'HCT-116', size=8.3, fontweight='bold', color='#111111', zorder=5)
T(501, 718, str(venn_hct), size=8.5, color='#111111', zorder=5)
T(463, 711, str(venn_both), size=6, zorder=5)

# ---------- h ----------
ax = axpx(589, 339, 792, 536)
ax.set_xlim(-4.5, 2.67)
ax.set_ylim(-4.51, 2.65)
cm_h = LinearSegmentedColormap.from_list('h', ['#ffffff', '#e0ddd9'])
ax.pcolormesh(sc_density_x, sc_density_y, np.array(sc_density), shading='gouraud', cmap=cm_h, vmin=0, vmax=.6, zorder=1, rasterized=True)
ax.contourf(sc_density_x, sc_density_y, np.array(sc_density), levels=[.42, 1.01], colors=['#b2aca6'], zorder=2)
hx, hy = zip(*sc_grey_pts)
ax.scatter(hx, hy, s=1.3, color='#a09a95', lw=0, zorder=2)
ax.axvline(kbm7_median, color='#aac2e0', lw=2.6, alpha=.7, zorder=3)
ax.axhline(hct_median, color='#fbd9c3', lw=2.6, alpha=.8, zorder=3)
ax.plot([-2.05, -1.2], [0, 0], color='#9a948f', lw=.7, zorder=3)
ax.scatter(kbm7_x, kbm7_y, s=11, color='#1f3f98', lw=0, zorder=5)
ax.scatter(hct_x, hct_y, s=11, color='#f07c35', lw=0, zorder=6)
ax.scatter([-3.77], [-4.12], s=3, color='#d05030', lw=0, zorder=7)
ax.plot([rab_xy[0], 1.0], [rab_xy[1], .8], color='k', lw=.9, zorder=8)
ax.set_xticks([-4, -2, 0, 2])
ax.set_yticks([-4, -2, 0, 2])
ax.tick_params(labelsize=7.6, length=2.5, width=.9, pad=1.5)
for s in ax.spines.values():
    s.set_linewidth(1.2)
    s.set_color('#333333')
ov.add_patch(FancyBboxPatch((593, 342.5), 106, 26, boxstyle='round,pad=0,rounding_size=2', fc='white', ec='#cccccc', lw=.7, alpha=.95))
ov.scatter([597], [351], s=9, color='#1f3f98', lw=0)
ov.scatter([597], [362], s=9, color='#f07c35', lw=0)
T(602, 351, 'KBM7 autoreg. TF', size=7.5, ha='left')
T(602, 362, 'HCT-116 autoreg. TF', size=7.5, ha='left')
T(761, 381, 'RAB3GAP1', size=7.3, style='italic', color='#222222')
T(613, 446, 'MYB', size=7.8, style='italic', color='#1f3f98')
T(610, 516, 'MYC', size=7.8, style='italic', fontweight='bold')
T(687, 526, 'TGIF1', size=7.6, style='italic', color='#f07c35')
T(688, 563, 'log2FC in KBM7', size=9.4, fontweight='bold')
T(688, 577, '(1h dTAG7 vs. DMSO)', size=8.2, color='#222222')
T(549, 437, 'log2FC in HCT-116', size=9.3, fontweight='bold', rotation=90)
T(564, 437, '(1h ' + VEE + ' vs. DMSO)', size=7.7, rotation=90, color='#222222')

# ---------- i ----------
cm_i = LinearSegmentedColormap.from_list('i', [(0, '#1f1c58'), (.08, '#2a2f7c'), (.125, '#345da8'), (.175, '#4d86bf'), (.25, '#7fb0d8'),
                                               (.35, '#c5dbec'), (.5, '#f7f7f7'), (.5875, '#fde3d0'), (.75, '#ec8a5f'), (.825, '#c9443e'), (.9, '#a81a30'), (1, '#4d0720')])
norm_i = Normalize(-2, 2)
for (y0, y1, vals, txts) in [(622, 693, hm_expr, hm_expr_txt), (697, 769, hm_lfc, hm_lfc_txt)]:
    a = axpx(658, y0, 765, y1)
    a.pcolormesh(np.array(vals, float), cmap=cm_i, norm=norm_i)
    a.invert_yaxis()
    a.set_xticks([])
    a.set_yticks([])
    for s in a.spines.values():
        s.set_linewidth(1.3)
        s.set_color('#333333')
    for r in range(2):
        for c in range(3):
            light = abs(vals[r][c]) > 1
            a.text(c + .5, r + .5, txts[r][c], ha='center', va='center', fontsize=9.2, color='white' if light else '#111111')
    for r, lab in enumerate(hm_rows):
        T(648, y0 + (y1 - y0) * (r + .5) / 2, lab, size=7, rotation=90, color='#222222')
    ov.plot([638, 638], [y0 + 1, y1 - 1], color='k', lw=1)
cax = axpx(771, 622, 779, 769)
cb = fig.colorbar(ScalarMappable(norm=norm_i, cmap=cm_i), cax=cax)
cb.set_ticks([-2, -1, 0, 1, 2])
cb.ax.tick_params(labelsize=6.6, length=2.5, width=.8, pad=1.5)
cb.outline.set_linewidth(.9)
T(676, 606, hm_cols[0], size=7.2, color='#222222', linespacing=1.1)
T(712, 599, 'MYC', size=7.2, style='italic', color='#222222')
T(712, 612, hm_cols[1], size=7.2, color='#222222')
T(747, 606, hm_cols[2], size=7.2, color='#222222', linespacing=1.1)
T(616, 658, 'TT-seq\nexpression\n(DMSO RPKM)', size=6.8, rotation=90, color='#222222', linespacing=1.45)
T(616, 733, '1h log2FC\nMED14-dTAG\n(dTAG/DMSO)', size=6.8, rotation=90, color='#222222', linespacing=1.45)

fig.savefig('out.png', dpi=100)
